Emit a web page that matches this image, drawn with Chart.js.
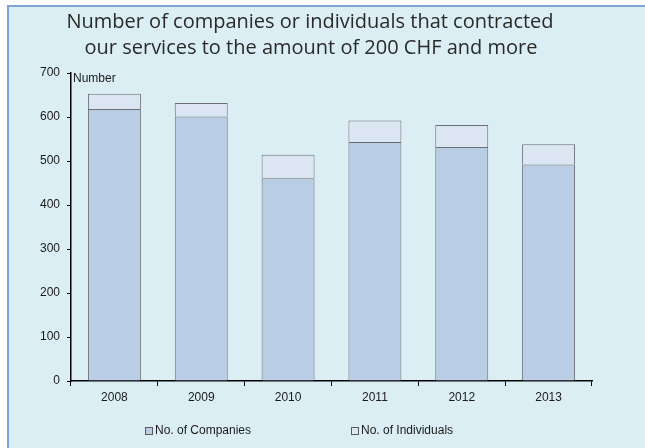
<!DOCTYPE html>
<html>
<head>
<meta charset="utf-8">
<title>Contracted services 2008-2013</title>
<script src="https://cdn.jsdelivr.net/npm/chart.js@4.4.0/dist/chart.umd.min.js"></script>
<style>
  html, body { margin: 0; padding: 0; background: #fff; overflow: hidden; }
  #panel {
    position: absolute; left: 7px; top: 5px; width: 660px; height: 460px;
    background: #dbeef4;
    border-left: 2px solid #7fa3d6;
    border-top: 2px solid #7fa3d6;
  }
  #chart { position: absolute; left: 0; top: 0; }
</style>
</head>
<body>
<div id="panel"></div>
<canvas id="chart" width="645" height="448"></canvas>

<script>
// data
const years = ["2008", "2009", "2010", "2011", "2012", "2013"];
const companies = [618, 601, 461, 543, 532, 492];
const individuals = [35, 31, 53, 49, 50, 46];
const seriesNames = ["No. of Companies", "No. of Individuals"];
const titleLines = [
  "Number of companies or individuals that contracted",
  "our services to the amount of 200 CHF and more"
];
const axisLabel = "Number";
const yMax = 700;
const yStep = 100;

const labelFont = "12px 'Liberation Sans', Arial, sans-serif";
Chart.defaults.font.family = "'Liberation Sans', Arial, sans-serif";
Chart.defaults.font.size = 12;
Chart.defaults.color = "#1a1a1a";

// two-line heading, centred a little left of the canvas middle
const headingPlugin = {
  id: "heading",
  afterDraw(chart) {
    const ctx = chart.ctx;
    ctx.save();
    ctx.font = "20px 'Open Sans', sans-serif";
    ctx.fillStyle = "#2a2a2a";
    ctx.textAlign = "center";
    ctx.textBaseline = "middle";
    ctx.fillText(titleLines[0], 310, 22);
    ctx.fillText(titleLines[1], 311, 48);
    ctx.restore();
  }
};

// "Number" caption next to the top of the value axis
const axisCaptionPlugin = {
  id: "axisCaption",
  afterDraw(chart) {
    const ctx = chart.ctx;
    const area = chart.chartArea;
    ctx.save();
    ctx.font = labelFont;
    ctx.fillStyle = "#1a1a1a";
    ctx.textBaseline = "middle";
    ctx.fillText(axisLabel, area.left + 2, area.top + 6);
    ctx.restore();
  }
};

// legend with wide spacing between the two entries
const spacedLegendPlugin = {
  id: "spacedLegend",
  afterDraw(chart, args, opts) {
    const ctx = chart.ctx;
    ctx.save();
    ctx.font = labelFont;
    ctx.textBaseline = "middle";
    chart.data.datasets.forEach((ds, i) => {
      const x = opts.xs[i];
      const y = opts.y;
      ctx.fillStyle = ds.backgroundColor;
      ctx.fillRect(x, y - 4, 7, 8);
      ctx.strokeStyle = "#5a5a5a";
      ctx.lineWidth = 1;
      ctx.strokeRect(x + 0.5, y - 3.5, 7, 7);
      ctx.fillStyle = "#1a1a1a";
      ctx.fillText(ds.label, x + 10, y);
    });
    ctx.restore();
  }
};

new Chart(document.getElementById("chart"), {
  type: "bar",
  data: {
    labels: years,
    datasets: [
      {
        label: seriesNames[0],
        data: companies,
        backgroundColor: "#b9cde4",
        borderColor: "#6b6f75",
        borderWidth: 1
      },
      {
        label: seriesNames[1],
        data: individuals,
        backgroundColor: "#dce6f2",
        borderColor: "#6b6f75",
        borderWidth: 1
      }
    ]
  },
  options: {
    responsive: false,
    animation: false,
    layout: { padding: { top: 73, right: 53, left: 0, bottom: 0 } },
    datasets: {
      bar: { categoryPercentage: 1, barPercentage: 0.61 }
    },
    plugins: {
      legend: { display: false },
      title: { display: false },
      tooltip: { enabled: false },
      spacedLegend: { xs: [145, 351], y: 431 }
    },
    scales: {
      x: {
        stacked: true,
        grid: {
          offset: true,
          drawOnChartArea: false,
          drawTicks: true,
          tickLength: 5,
          color: "#000"
        },
        border: { color: "#000", width: 1.5 },
        ticks: { padding: 4, color: "#1a1a1a" },
        afterFit(scale) { scale.height = 67; }
      },
      y: {
        stacked: true,
        min: 0,
        max: yMax,
        grid: {
          drawOnChartArea: false,
          drawTicks: true,
          tickLength: 4,
          color: "#000"
        },
        border: { color: "#000", width: 1.5 },
        ticks: { stepSize: yStep, padding: 7, color: "#1a1a1a" },
        afterFit(scale) { scale.width = 71; }
      }
    }
  },
  plugins: [headingPlugin, axisCaptionPlugin, spacedLegendPlugin]
});
</script>
</body>
</html>
